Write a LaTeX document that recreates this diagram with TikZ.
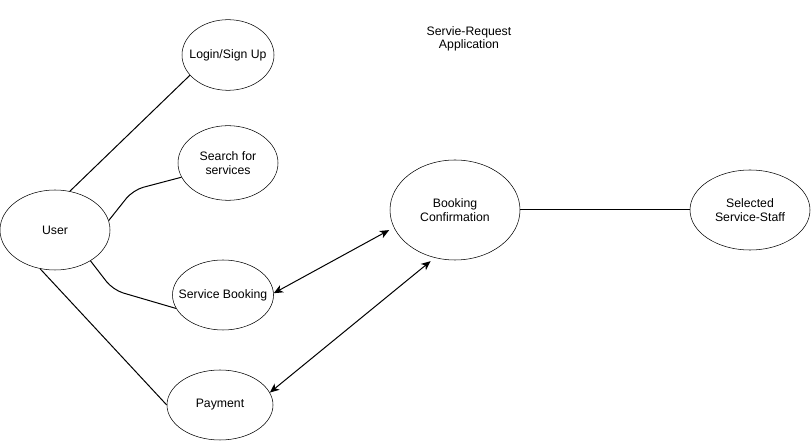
\documentclass[tikz,border=0pt]{standalone}
\usepackage{fontspec}
\setmainfont{Liberation Sans}
\usetikzlibrary{shapes.geometric,arrows.meta}

\tikzset{
  usecase/.style={draw, ellipse, inner xsep=-30pt, inner ysep=-15pt, align=center, font=\fontsize{9.2}{10.8}\selectfont},
  link/.style={line width=0.75pt},
  bothway/.style={line width=0.75pt, {Stealth[length=7pt,width=6pt,inset=2pt]}-{Stealth[length=7pt,width=6pt,inset=2pt]}}
}

\begin{document}
\begin{tikzpicture}[x=0.75pt,y=0.75pt,yscale=-1,xscale=1]
        \useasboundingbox (0,0) rectangle (811,441);

        % use cases
        \node [usecase, minimum width=82.5pt, minimum height=60pt] (user) at (55,230) {User};
        \node [usecase, minimum width=69pt, minimum height=53pt] (login) at (228,55) {Login/Sign Up};
        \node [usecase, minimum width=75pt, minimum height=56pt] (search) at (228,163) {Search for\\services};
        \node [usecase, minimum width=75.75pt, minimum height=52.5pt] (booking) at (223,295) {Service Booking};
        \node [usecase, minimum width=79.5pt, minimum height=52.5pt] (payment) at (220,405) {Payment};
        \node [usecase, minimum width=97.5pt, minimum height=75pt] (confirm) at (455,210) {Booking\\Confirmation};
        \node [usecase, minimum width=90pt, minimum height=60pt] (staff) at (750,210) {Selected\\Service-Staff};
        \node [align=center, inner sep=0.75pt, font=\fontsize{9.2}{10}\selectfont] (title) at (469,39) {Servie-Request\\Application};

        \coordinate (searchbend) at (133,190);
        \coordinate (bookingbend) at (113,290);

        % connectors
        \draw [link] (user.69) -- (login.208);
        \draw [link, rounded corners=8pt] (user.10) -- (searchbend) -- (search.197);
        \draw [link, rounded corners=8pt] (user.-41) -- (bookingbend) -- (booking.196);
        \draw [link] (user.249) -- (payment.west);
        \draw [bothway, shorten >=4pt] (booking.2) -- (confirm.196);
        \draw [bothway, shorten >=4pt] (payment.14) -- (confirm.247);
        \draw [link] (confirm.east) -- (staff.west);
\end{tikzpicture}
\end{document}
